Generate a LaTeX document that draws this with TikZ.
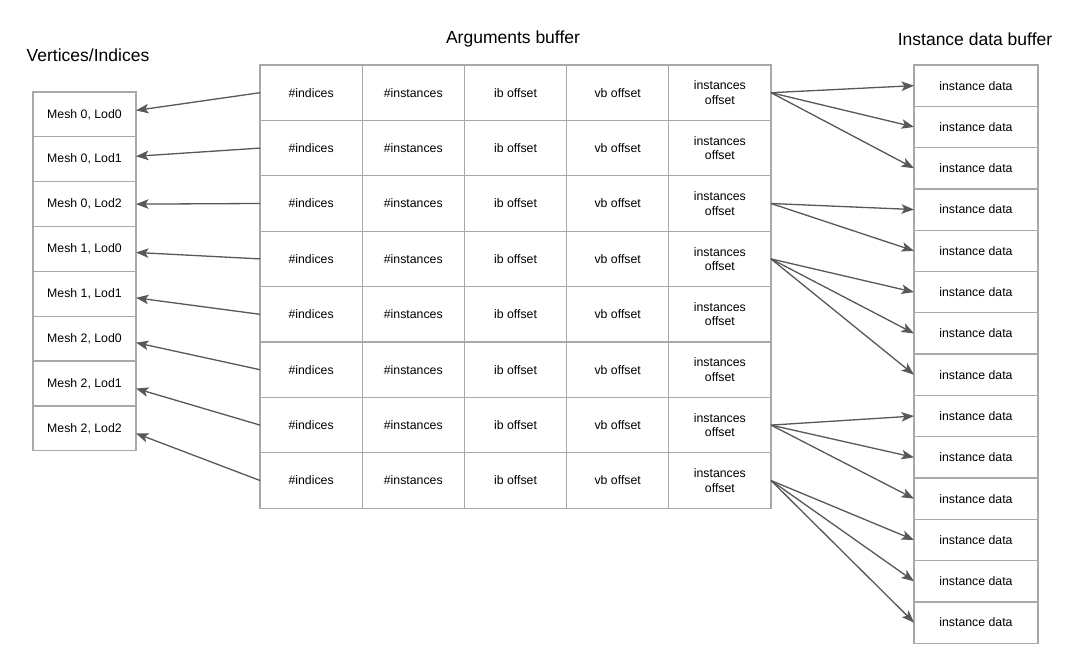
\documentclass[tikz,border=0pt]{standalone}
\usepackage{fontspec}
\setmainfont{Liberation Sans}
\usetikzlibrary{arrows.meta,positioning}
\definecolor{boxgray}{HTML}{A8A8A8}
\definecolor{arrowgray}{HTML}{585858}

\begin{document}
\begin{tikzpicture}[x=1pt,y=-1pt,>={Stealth[length=12.5pt,width=9.5pt,inset=3pt]},
                    line width=1.3pt]
  \tikzstyle{cell}=[draw=boxgray, line width=1.3pt, inner sep=0pt, outer sep=0pt,
    align=center, font=\fontsize{12.3}{14.5}\selectfont]
  \tikzstyle{argcell}=[cell, minimum width=102.2pt, minimum height=55.4pt]
  \tikzstyle{meshcell}=[cell, minimum width=103pt, minimum height=44.85pt]
  \tikzstyle{datacell}=[cell, minimum width=124pt, minimum height=41.3pt]
  \tikzstyle{title}=[font=\fontsize{17.5}{21}\selectfont]
  \tikzstyle{link}=[->, draw=arrowgray, fill=arrowgray]
  \useasboundingbox (0,0) rectangle (1072,666);

  % titles
  \node[title] (vtitle) at (88,55)  {Vertices/Indices};
  \node[title] (atitle) at (513,39) {Arguments buffer};
  \node[title] (dtitle) at (975,39) {Instance data buffer};

  % vertices / indices
  \foreach \i/\txt in {1/{Mesh 0, Lod0},2/{Mesh 0, Lod1},3/{Mesh 0, Lod2},
                       4/{Mesh 1, Lod0},5/{Mesh 1, Lod1},6/{Mesh 2, Lod0},
                       7/{Mesh 2, Lod1},8/{Mesh 2, Lod2}}
    \node[meshcell] (m\i) at (84.5,{92+44.85*(\i-0.5)}) {\txt};

  % arguments buffer
  \foreach \r in {1,...,8}{
    \foreach \c/\txt in {1/{\#indices},2/{\#instances},3/{ib offset},
                         4/{vb offset},5/{instances\\offset}}
      \node[argcell] (a\r c\c) at ({260+102.2*(\c-0.5)},{65+55.4*(\r-0.5)}) {\txt};
  }

  % instance data buffer
  \foreach \j in {1,...,14}
    \node[datacell] (d\j) at (976,{65+41.3*(\j-0.5)}) {instance data};

  % links to meshes
  \foreach \r/\dy in {1/4,2/3,3/0,4/-3.5,5/-4,6/-4,7/-5,8/-5}
    \draw[link] (a\r c1.west) -- ([yshift=\dy pt]m\r.east);

  % links to instance data
  \foreach \r/\j in {1/1,1/2,1/3,3/4,3/5,4/6,4/7,4/8,7/9,7/10,7/11,8/12,8/13,8/14}
    \draw[link] (a\r c5.east) -- (d\j.west);
\end{tikzpicture}
\end{document}
